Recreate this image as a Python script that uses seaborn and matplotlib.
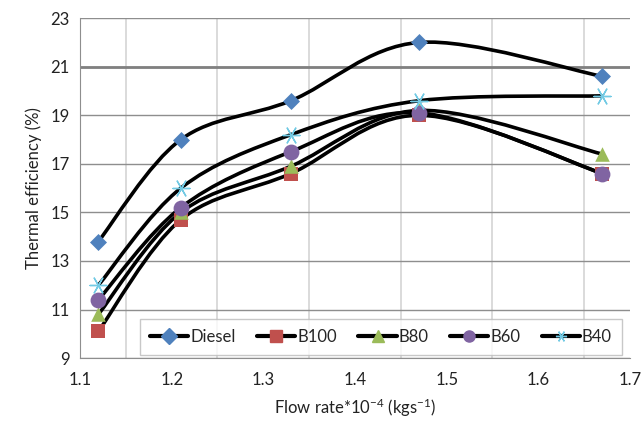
# ==========================================
# IMPORT LIBRARIES
# ==========================================

import numpy as np
import pandas as pd
import matplotlib
matplotlib.use("Agg")
import matplotlib.pyplot as plt
from matplotlib.path import Path
from matplotlib.patches import PathPatch
from matplotlib.lines import Line2D
import seaborn as sns

# ==========================================
# DATA
# ==========================================

flow_rate = [1.12, 1.21, 1.33, 1.47, 1.67]

diesel = [13.8, 18.0, 19.6, 22.0, 20.6]
b100 = [10.1, 14.7, 16.6, 19.0, 16.6]
b80 = [10.8, 15.0, 16.9, 19.2, 17.4]
b60 = [11.4, 15.2, 17.5, 19.1, 16.6]
b40 = [12.0, 16.0, 18.2, 19.6, 19.8]

fuels = ["Diesel", "B100", "B80", "B60", "B40"]
series = [diesel, b100, b80, b60, b40]

colors = ["#4F81BD", "#C0504D", "#9BBB59", "#8064A2", "#72CAE4"]
markers = ["D", "s", "^", "o", (6, 2, 90)]
sizes = [75, 110, 110, 130, 150]

df = pd.DataFrame({
    "Flow": flow_rate * len(fuels),
    "Eff": sum(series, []),
    "Fuel": np.repeat(fuels, len(flow_rate)),
})

# ==========================================
# STYLE
# ==========================================

sns.set_style("white")
plt.rcParams["font.family"] = ["Lato", "DejaVu Sans"]
plt.rcParams["mathtext.default"] = "regular"


def smooth_path(xs, ys):
    # excel-like smoothed line (bezier through the points)
    pts = np.column_stack([xs, ys])
    verts = [pts[0]]
    codes = [Path.MOVETO]
    n = len(pts)
    for i in range(n - 1):
        p0 = pts[i - 1] if i > 0 else pts[i]
        p1 = pts[i]
        p2 = pts[i + 1]
        p3 = pts[i + 2] if i + 2 < n else pts[i + 1]
        verts += [p1 + (p2 - p0) / 6, p2 - (p3 - p1) / 6, p2]
        codes += [Path.CURVE4] * 3
    return Path(verts, codes)


# ==========================================
# PLOT
# ==========================================

fig = plt.figure(figsize=(6.42, 4.32), dpi=100)
ax = fig.add_axes([0.1246, 0.171, 0.8567, 0.787])

for name, vals in zip(fuels, series):
    ax.add_patch(PathPatch(smooth_path(flow_rate, vals), fill=False,
                           edgecolor="black", lw=2.6, zorder=3))

for name, color, mk, sz in zip(fuels, colors, markers, sizes):
    sub = df[df["Fuel"] == name]
    if name == "B40":
        sns.scatterplot(data=sub, x="Flow", y="Eff", marker=mk, s=sz,
                        color=color, linewidth=1.0, ax=ax, zorder=4)
    else:
        sns.scatterplot(data=sub, x="Flow", y="Eff", marker=mk, s=sz,
                        color=color, edgecolor=color, linewidth=0, ax=ax, zorder=4)

ax.set_xlim(1.1, 1.7)
ax.set_ylim(9, 23)
ax.set_xticks(np.arange(1.1, 1.71, 0.1))
# excel left out the 1.5 gridline
grid_x = [g for g in np.round(np.arange(1.15, 1.7, 0.05), 2) if g != 1.5]
ax.set_xticks(grid_x, minor=True)
ax.set_yticks(np.arange(9, 24, 2))

ax.grid(axis="x", which="minor", color="#D4D4D4", lw=1.2)
ax.grid(axis="y", which="major", color="#8E8E8E", lw=1.0)
ax.axhline(21, color="#808080", lw=2.0, zorder=1)
ax.set_axisbelow(True)

for s in ["top", "right"]:
    ax.spines[s].set_visible(False)
ax.spines["left"].set_color("#8E8E8E")
ax.spines["bottom"].set_color("#8E8E8E")

ax.tick_params(axis="both", which="both", length=0, labelsize=12, colors="#222222")
ax.tick_params(axis="y", length=4, color="#8E8E8E")
ax.tick_params(axis="x", pad=10)

ax.set_xticklabels(["1.1", "1.2", "1.3", "1.4", "1.5", "1.6", "1.7"])
ax.set_xlabel("Flow rate*10$^{-4}$ (kgs$^{-1}$)", fontsize=12, color="#222222", labelpad=6)
ax.set_ylabel("Thermal efficiency (%)", fontsize=12, color="#222222", labelpad=6)

# ==========================================
# LEGEND
# ==========================================

handles = []
for name, color, mk in zip(fuels, colors, markers):
    handles.append(Line2D([0], [0], color="black", lw=3, marker=mk,
                          markersize=8, markerfacecolor=color,
                          markeredgecolor=color, markeredgewidth=1.0))

leg = ax.legend(handles, fuels, ncol=5, loc="lower right",
                bbox_to_anchor=(0.985, 0.01), borderaxespad=0, fontsize=12,
                frameon=True, fancybox=False, handlelength=2.3,
                handletextpad=0.1, columnspacing=1.3, borderpad=0.6)
leg.get_frame().set_edgecolor("#BBBBBB")
leg.get_frame().set_linewidth(1.0)

plt.savefig("out.png", dpi=100)
